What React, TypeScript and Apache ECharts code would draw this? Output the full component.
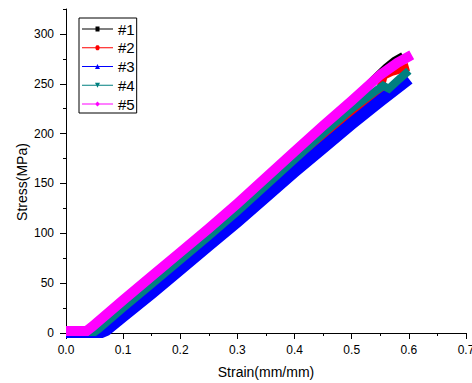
import React, { useEffect, useRef } from "react";
import * as echarts from "echarts";

const seriesNames = ["#1", "#2", "#3", "#4", "#5"];
const seriesColors = ["#000000", "#ff0000", "#0000ff", "#008080", "#ff00ff"];
const seriesWidths = [8, 8, 12, 8, 10];

const s1Strain = [0, 0.042, 0.05, 0.1, 0.15, 0.2, 0.25, 0.3, 0.35, 0.4, 0.45, 0.5, 0.52, 0.54, 0.56, 0.575, 0.59];
const s1Stress = [1, 1, 5, 30, 54, 78, 102, 127, 153, 179, 205, 232, 243, 255, 266, 273, 278];

const s2Strain = [0, 0.052, 0.06, 0.1, 0.15, 0.2, 0.25, 0.3, 0.35, 0.4, 0.45, 0.5, 0.54, 0.55, 0.556, 0.57, 0.6];
const s2Stress = [1, 1, 4, 22, 46, 70, 94, 119, 145, 171, 197, 222, 240, 245, 258, 262, 267];

const s3Strain = [0, 0.062, 0.07, 0.1, 0.15, 0.2, 0.25, 0.3, 0.35, 0.4, 0.45, 0.5, 0.55, 0.6];
const s3Stress = [1, 1, 3, 17, 40, 64, 88, 112, 137, 162, 186, 210, 233, 255];

const s4Strain = [0, 0.05, 0.057, 0.1, 0.15, 0.2, 0.25, 0.3, 0.35, 0.4, 0.45, 0.5, 0.54, 0.555, 0.565, 0.58, 0.6];
const s4Stress = [1, 1, 4, 25, 49, 73, 97, 122, 148, 174, 200, 225, 242, 248, 245, 253, 263];

const s5Strain = [0, 0.036, 0.045, 0.1, 0.15, 0.2, 0.25, 0.3, 0.35, 0.4, 0.45, 0.5, 0.55, 0.58, 0.605];
const s5Stress = [2, 2, 6, 33, 57, 81, 105, 130, 156, 182, 208, 233, 259, 271, 279];

const strains = [s1Strain, s2Strain, s3Strain, s4Strain, s5Strain];
const stresses = [s1Stress, s2Stress, s3Stress, s4Stress, s5Stress];

const yTickValues = [0, 50, 100, 150, 200, 250, 300];
const yMinorValues = [25, 75, 125, 175, 225, 275, 325];

const LINE = "M0 3.5 L31 3.5 L31 4.5 L0 4.5 Z ";
const legendIcons = [
  "path://" + LINE + "M13.5 1.5 L17.5 1.5 L17.5 6.5 L13.5 6.5 Z",
  "path://" + LINE + "M14.5 1.5 L16.5 1.5 L17.5 2.8 L17.5 5.2 L16.5 6.5 L14.5 6.5 L13.5 5.2 L13.5 2.8 Z",
  "path://" + LINE + "M15.5 1.5 L18 6.5 L13 6.5 Z",
  "path://" + LINE + "M13 1.5 L18 1.5 L15.5 6.5 Z",
  "path://" + LINE + "M15.5 1.5 L18 4 L15.5 6.5 L13 4 Z",
];

const FONT = "'Liberation Sans', Arial, sans-serif";

export default function App() {
  const ref = useRef<HTMLDivElement>(null);
  useEffect(() => {
    if (!ref.current) return;
    const chart = echarts.init(ref.current, null, { renderer: "svg" });
    const series = seriesNames.map((name, i) => ({
      name,
      type: "line",
      data: strains[i].map((x, j) => [x, stresses[i][j]]),
      showSymbol: false,
      symbol: "none",
      lineStyle: { color: seriesColors[i], width: seriesWidths[i], cap: "butt", join: "miter" },
      itemStyle: { color: seriesColors[i] },
      emphasis: { disabled: true },
      z: 2 + i,
    }));
    chart.setOption({
      animation: false,
      textStyle: { fontFamily: FONT },
      grid: {
        left: 66,
        top: 9,
        width: 400,
        height: 324,
        containLabel: false,
        outerBoundsMode: "none",
      },
      legend: {
        left: 79,
        top: 18,
        orient: "vertical",
        padding: [3.5, 2, 1.5, 3],
        itemGap: 3.75,
        itemWidth: 31,
        itemHeight: 8,
        borderColor: "#000",
        borderWidth: 1,
        borderRadius: 0,
        selectedMode: false,
        itemStyle: { borderWidth: 0 },
        textStyle: { fontSize: 15, color: "#000", fontFamily: FONT },
        data: seriesNames.map((n, i) => ({ name: n, icon: legendIcons[i] })),
      },
      xAxis: {
        type: "value",
        min: 0,
        max: 0.7,
        interval: 0.1,
        name: "Strain(mm/mm)",
        nameLocation: "middle",
        nameGap: 32,
        nameMoveOverlap: false,
        nameTextStyle: { fontSize: 14, color: "#000", fontFamily: FONT },
        axisLine: { onZero: false, lineStyle: { color: "#000", width: 1 } },
        axisTick: { length: 6, lineStyle: { color: "#000" } },
        minorTick: { show: true, splitNumber: 2, length: 3, lineStyle: { color: "#000" } },
        splitLine: { show: false },
        axisLabel: {
          fontSize: 12,
          color: "#000",
          margin: 11,
          fontFamily: FONT,
          formatter: (v: number) => v.toFixed(1),
        },
      },
      yAxis: [
        {
          type: "value",
          min: 0,
          max: 325,
          interval: 25,
          name: "Stress(MPa)",
          nameLocation: "middle",
          nameGap: 37,
          nameMoveOverlap: false,
          nameRotate: 90,
          nameTextStyle: { fontSize: 14, color: "#000", fontFamily: FONT, padding: [0, 22, 0, 0] },
          axisLine: { onZero: false, lineStyle: { color: "#000", width: 1 } },
          axisTick: { length: 6, customValues: yTickValues, lineStyle: { color: "#000" } },
          splitLine: { show: false },
          axisLabel: {
            fontSize: 12,
            color: "#000",
            margin: 12,
            fontFamily: FONT,
            customValues: yTickValues,
            formatter: (v: number) => (v % 50 === 0 ? String(v) : ""),
          },
        },
        {
          type: "value",
          min: 0,
          max: 325,
          interval: 25,
          position: "left",
          axisLine: { show: false },
          axisTick: { length: 3, customValues: yMinorValues, lineStyle: { color: "#000" } },
          axisLabel: { show: false },
          splitLine: { show: false },
        },
      ],
      series,
    });
    return () => chart.dispose();
  }, []);
  return (
    <div
      ref={ref}
      style={{ position: "absolute", left: 0, top: 0, width: 472, height: 383 }}
    />
  );
}
